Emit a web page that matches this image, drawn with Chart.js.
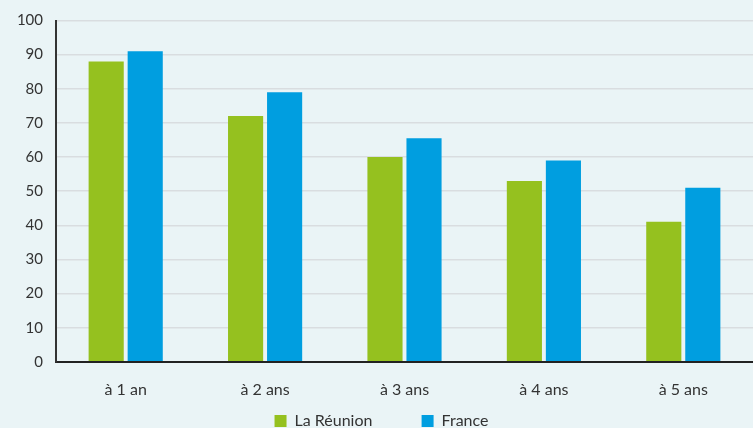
<!DOCTYPE html>
<html>
<head>
<meta charset="utf-8">
<script src="https://cdn.jsdelivr.net/npm/chart.js@4.4.1/dist/chart.umd.min.js"></script>
<style>
  html, body { margin: 0; padding: 0; background: #eaf4f6; }
  #wrap { width: 753px; height: 428px; position: relative; }
</style>
</head>
<body>
<div id="wrap"><canvas id="chart"></canvas></div>
<script>
// data
const categories = ["à 1 an", "à 2 ans", "à 3 ans", "à 4 ans", "à 5 ans"];
const reunion = [88, 72, 60, 53, 41];
const france = [91, 79, 65.5, 59, 51];
const yTicks = [0, 10, 20, 30, 40, 50, 60, 70, 80, 90, 100];

const GREEN = "#95c11f";
const BLUE = "#009ee0";
const FONT = "Lato, 'Open Sans', sans-serif";

Chart.defaults.font.family = FONT;
Chart.defaults.color = "#333";

new Chart(document.getElementById("chart"), {
    type: "bar",
    data: {
        labels: categories,
        datasets: [
            { label: "La Réunion", data: reunion, backgroundColor: GREEN },
            { label: "France", data: france, backgroundColor: BLUE }
        ]
    },
    options: {
        responsive: true,
        maintainAspectRatio: false,
        animation: false,
        datasets: { bar: { categoryPercentage: 0.56, barPercentage: 0.9 } },
        layout: { padding: { top: 18, right: -3, left: 7, bottom: -11 } },
        scales: {
            x: {
                grid: { display: false },
                border: { color: "#222", width: 2 },
                ticks: { font: { size: 16 }, padding: 10, color: "#333" },
                afterFit: axis => { axis.height += 4; }
            },
            y: {
                min: 0, max: 100,
                afterBuildTicks: axis => { axis.ticks = yTicks.map(v => ({ value: v })); },
                afterFit: axis => { axis.width = 49; },
                grid: { color: "#d9dde0", lineWidth: 1.5, drawTicks: false },
                border: { color: "#333", width: 2 },
                ticks: { font: { size: 15, lineHeight: 1 }, padding: 13, color: "#333" }
            }
        },
        plugins: {
            legend: {
                position: "bottom",
                labels: {
                    boxWidth: 12, boxHeight: 12, padding: 0,
                    font: { size: 16 }, color: "#333",
                    // widen the gap between the two entries like the original
                    generateLabels: chart => Chart.defaults.plugins.legend.labels.generateLabels(chart)
                        .map((l, i) => (i === 0 ? { ...l, text: l.text + "            " } : l))
                }
            },
            tooltip: { enabled: false }
        }
    }
});
</script>
</body>
</html>
